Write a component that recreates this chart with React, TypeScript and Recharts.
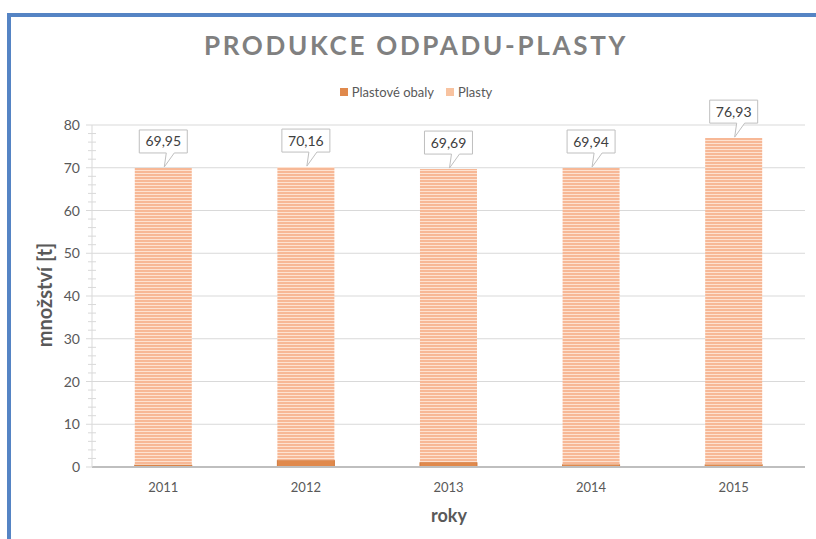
import React from 'react';
import { BarChart, Bar, XAxis, YAxis, CartesianGrid, Legend, LabelList } from 'recharts';

const years = ['2011', '2012', '2013', '2014', '2015'];
const obaly = [0.5, 1.6, 1.1, 0.6, 0.6];
const plasty = [69.45, 68.56, 68.59, 69.34, 76.33];
const majorTicks = [0, 10, 20, 30, 40, 50, 60, 70, 80];
const minorTicks = [0, 2, 4, 6, 8, 10, 12, 14, 16, 18, 20, 22, 24, 26, 28, 30, 32, 34, 36, 38, 40, 42, 44, 46, 48, 50, 52, 54, 56, 58, 60, 62, 64, 66, 68, 70, 72, 74, 76, 78, 80];

const data = years.map((y, i) => ({ year: y, obaly: obaly[i], plasty: plasty[i] }));

const FONT = 'Lato, "Open Sans", sans-serif';

const YTick = (props: any) => {
  const { x, y, payload } = props;
  const v = payload.value;
  const major = v % 10 === 0;
  const ax = x + 8;
  return (
    <g>
      {major ? (
        <>
          <line x1={ax - 6} x2={ax} y1={y} y2={y} stroke="#d9d9d9" />
          <text x={ax - 12} y={y} dy={5} textAnchor="end" fill="#595959" fontSize={14} fontFamily={FONT}>
            {v}
          </text>
        </>
      ) : (
        <line x1={ax - 4} x2={ax + 4} y1={y} y2={y} stroke="#d9d9d9" />
      )}
    </g>
  );
};

// total value in a speech-bubble box above each bar
const Callout = (props: any) => {
  const { x, y, width, index } = props;
  const total = obaly[index] + plasty[index];
  const cx = x + width / 2;
  const bw = 48;
  const bh = 23;
  const bb = y - 15;
  const bt = bb - bh;
  const bl = cx - bw / 2;
  const br = cx + bw / 2;
  const d = `M${bl},${bt} H${br} V${bb} H${cx + 11} L${cx + 1},${y - 1} L${cx + 3},${bb} H${bl} Z`;
  return (
    <g>
      <path d={d} fill="#ffffff" stroke="#bfbfbf" strokeWidth={1} />
      <text x={cx} y={bt + bh / 2} dy={5} textAnchor="middle" fill="#404040" fontSize={14} fontFamily={FONT}>
        {total.toFixed(2).replace('.', ',')}
      </text>
    </g>
  );
};

const LegendContent = () => (
  <div style={{ display: 'flex', justifyContent: 'center', gap: 12, fontFamily: FONT, fontSize: 13, color: '#595959', height: 15, alignItems: 'center' }}>
    <span style={{ display: 'flex', alignItems: 'center', gap: 4 }}>
      <span style={{ width: 8, height: 8, background: '#E0894C', display: 'inline-block' }} />
      Plastové obaly
    </span>
    <span style={{ display: 'flex', alignItems: 'center', gap: 4 }}>
      <span style={{ width: 8, height: 8, background: '#F8C3A0', display: 'inline-block' }} />
      Plasty
    </span>
  </div>
);

export default function App() {
  return (
    <div style={{ position: 'absolute', left: 0, top: 0, width: 816, height: 539, background: '#fff', overflow: 'hidden' }}>
      <div style={{ position: 'absolute', left: 7, top: 13, width: 820, height: 540, borderLeft: '4px solid #5584C4', borderTop: '4px solid #5584C4' }} />
      <div style={{ position: 'absolute', left: 0, top: 29, width: 832, textAlign: 'center', fontFamily: FONT, fontWeight: 700, fontSize: 26, letterSpacing: 2.7, color: '#808080' }}>
        PRODUKCE ODPADU-PLASTY
      </div>
      <div style={{ position: 'absolute', left: 44, top: 295, transform: 'translate(-50%, -50%) rotate(-90deg)', fontFamily: FONT, fontWeight: 700, fontSize: 20, color: '#595959', whiteSpace: 'nowrap' }}>
        množství [t]
      </div>
      <div style={{ position: 'absolute', left: 449, top: 504, transform: 'translateX(-50%)', fontFamily: FONT, fontWeight: 700, fontSize: 18, color: '#595959' }}>
        roky
      </div>
      <div style={{ position: 'absolute', left: 0, top: 0 }}>
        <BarChart width={816} height={539} data={data} margin={{ top: 110, right: 11, bottom: 42, left: 44 }} barCategoryGap="30%">
          <defs>
            <pattern id="stripes" width="4" height="3" patternUnits="userSpaceOnUse">
              <rect width="4" height="3" fill="#F7B896" />
              <rect y="2" width="4" height="1" fill="#FDE2D1" />
            </pattern>
          </defs>
          <CartesianGrid vertical={false} stroke="#d9d9d9" horizontalValues={majorTicks} />
          <XAxis
            dataKey="year"
            tickLine={false}
            axisLine={{ stroke: '#bfbfbf', strokeWidth: 2 }}
            tick={{ fontSize: 13, fill: '#595959', fontFamily: FONT }}
            tickMargin={10}
          />
          <YAxis
            width={48}
            domain={[0, 80]}
            ticks={minorTicks}
            interval={0}
            tickLine={false}
            axisLine={{ stroke: '#d9d9d9' }}
            tick={<YTick />}
          />
          <Legend verticalAlign="top" content={<LegendContent />} wrapperStyle={{ top: 84, left: 0, width: 832 }} />
          <Bar dataKey="obaly" stackId="a" fill="#E0894C" stroke="#D07A3E" isAnimationActive={false} />
          <Bar dataKey="plasty" stackId="a" fill="url(#stripes)" isAnimationActive={false}>
            <LabelList dataKey="plasty" content={<Callout />} />
          </Bar>
        </BarChart>
      </div>
    </div>
  );
}
